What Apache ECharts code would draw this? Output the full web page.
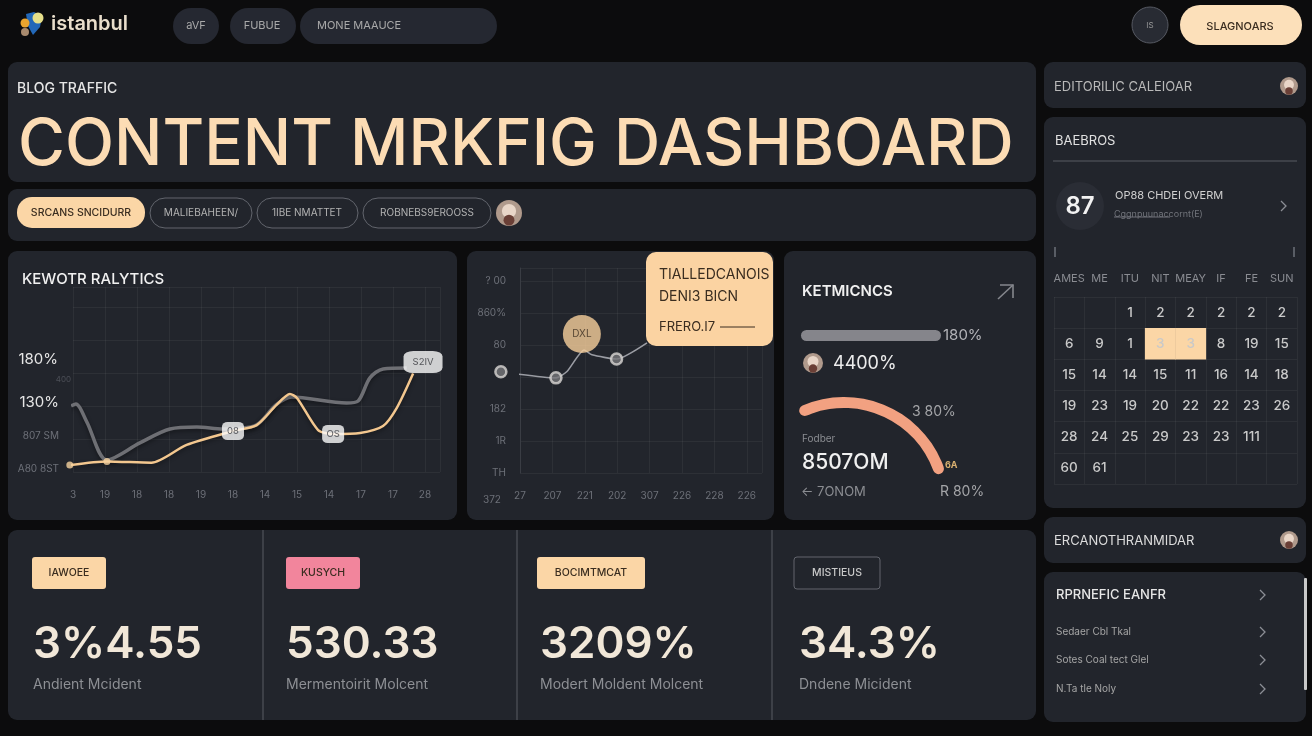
<!DOCTYPE html>
<html>
<head>
<meta charset="utf-8">
<title>Content dashboard</title>
<script src="https://cdn.jsdelivr.net/npm/echarts@6/dist/echarts.min.js"></script>
<style>
html,body{margin:0;padding:0;background:#0c0c0d;}
#main{width:1312px;height:736px;}
</style>
</head>
<body>
<div id="main"></div>
<script>
// keyword chart
var kwXLabels = ['3','19','18','18','19','18','14','15','14','17','17','28'];
var kwYLabels = ['A80 8ST','807 SM','130%'];
var kwOrangeX = [-0.1,1.06,2.45,3.55,5.0,5.74,6.36,6.78,7.0,7.66,8.13,8.97,9.69,10.12,10.63];
var kwOrangeY = [0.21,0.32,0.28,0.82,1.24,1.42,2.03,2.36,2.24,1.27,1.15,1.18,1.39,1.94,2.98];
var kwGrayX = [-0.06,0.09,0.43,1.06,2.09,3.03,3.87,4.69,5.72,6.34,6.84,8.55,8.91,9.28,9.69,10.43];
var kwGrayY = [2.0,2.06,1.52,0.36,0.88,1.3,1.36,1.3,1.42,2.03,2.27,2.09,2.15,2.85,3.12,3.15];
var kwTags = [['08',5.0,1.24],['OS',8.13,1.15],['S2IV',10.94,3.33]];
var kwDots = [[-0.1,0.21],[1.06,0.32]];

// trend chart
var trendXLabels = ['27','207','221','202','307','226','228','226'];
var trendYLabels = ['TH','1R','182','','80','860%','? 00'];
var trendX = [-0.59,1.11,1.45,1.98,2.22,2.98,3.92];
var trendY = [3.16,2.97,3.17,3.84,3.69,3.56,4.06];
var trendNodes = [[-0.59,3.16],[1.11,2.97],[2.98,3.56]];
var trendBubble = ['DXL',1.91,4.34];

// metrics
var progressValue = 100;
var progressLabel = '180%';
var arcValue = 100;

// calendar
var calHeaders = ['AMES','ME','ITU','NIT','MEAY','IF','FE','SUN'];
var calRows = [
  ['','',1,2,2,2,2,2],
  [6,9,1,3,3,8,19,15],
  [15,14,14,15,11,16,14,18],
  [19,23,19,20,22,22,23,26],
  [28,24,25,29,23,23,111,''],
  [60,61,'','','','','','']
];
var calPicked = [[3,1],[4,1]];

// kpi row
var kpiTags = ['IAWOEE','KUSYCH','BOCIMTMCAT','MISTIEUS'];
var kpiValues = ['3%4.55','530.33','3209%','34.3%'];
var kpiNotes = ['Andient Mcident','Mermentoirit Molcent','Modert Moldent Molcent','Dndene Micident'];

var FONT = 'Inter';
var PANEL = '#22252c';
var PEACH = '#fbd6a6';
var els = [];

function rect(x,y,w,h,r,fill,stroke,z){
  els.push({type:'rect',z:z==null?-1:z,shape:{x:x,y:y,width:w,height:h,r:r},
    style:{fill:fill||'transparent',stroke:stroke||null,lineWidth:stroke?1:0}});
}
function circle(cx,cy,r,fill,stroke,z){
  els.push({type:'circle',z:z==null?0:z,shape:{cx:cx,cy:cy,r:r},
    style:{fill:fill||'transparent',stroke:stroke||null,lineWidth:stroke?1:0}});
}
function text(x,y,str,size,color,weight,align,z){
  els.push({type:'text',z:z==null?1:z,x:x,y:y,style:{text:str,fill:color,
    font:(weight||400)+' '+size+'px '+FONT,align:align||'left',verticalAlign:'middle'}});
}
function line(points,color,width,z){
  els.push({type:'polyline',z:z==null?0:z,shape:{points:points},
    style:{stroke:color,lineWidth:width||1,fill:null}});
}
function chevron(x,y){
  line([[x-3,y-5],[x+2,y],[x-3,y+5]],'#8b8e95',1.3);
}
function avatar(cx,cy,r){
  circle(cx,cy,r,'#b09a8c');
  circle(cx,cy-r*0.15,r*0.55,'#e9d6c8');
  circle(cx,cy+r*0.55,r*0.42,'#6a3f36');
}

// top bar
els.push({type:'polygon',z:0,shape:{points:[[26,14],[34,12],[42,16],[40,27],[33,35],[28,26]]},style:{fill:'#2368b8'}});
circle(38,18,5.5,'#e6e08a',null,1);
circle(25,23,4.5,'#eba52e',null,1);
circle(25,32,4,'#a98b6e',null,1);
text(51,24,'istanbul',20,'#e9decb',600);
rect(173,8,46,36,18,'#252831');
rect(230,8,66,36,18,'#252831');
rect(300,8,197,36,18,'#252831');
text(196,26,'aVF',11,'#a9a9a9',400,'center');
text(262,26,'FUBUE',11,'#a9a9a9',400,'center');
text(317,26,'MONE MAAUCE',11,'#a9a9a9');
circle(1150,25,18,'#282b33','#565962');
text(1150,26,'IS',8,'#9a9a9a',400,'center');
rect(1180,5,122,40,20,'#fce0ba');
text(1240,27,'SLAGNOARS',11,'#3a2d20',500,'center');

// header + filter bar
rect(8,62,1028,120,9,PANEL);
text(17,89,'BLOG TRAFFIC',14,'#e6e6e6',500);
text(18,146,'CONTENT MRKFIG DASHBOARD',64,'#fcdcb4',500);
rect(8,189,1028,52,9,PANEL);
rect(17,197,128,31,15,PEACH);
text(81,213,'SRCANS SNCIDURR',10.5,'#3a2d20',500,'center');
rect(150,198,102,30,15,null,'#62656d');
text(201,213,'MALIEBAHEEN/',10,'#b3b3b3',400,'center');
rect(257,198,101,30,15,null,'#62656d');
text(307,213,'1IBE NMATTET',10,'#b3b3b3',400,'center');
rect(363,198,128,30,15,null,'#62656d');
text(427,213,'ROBNEBS9EROOSS',10,'#b3b3b3',400,'center');
avatar(509,213,13);

// chart panels
rect(8,251,449,269,9,PANEL);
rect(467,251,307,269,9,PANEL);
rect(784,251,252,269,9,PANEL);
text(22,279,'KEWOTR RALYTICS',15,'#f0f0f0',500);
text(58,359,'180%',15,'#e6e6e6',400,'right');
text(71,380,'400',8,'#4c4f57',400,'right');

// tooltip card on the trend chart
rect(646,252,127,94,10,'#fbd3a2',null,10);
text(659,275,'TIALLEDCANOIS',14,'#3a2d20',400,'left',11);
text(659,297,'DENI3 BICN',14,'#3a2d20',400,'left',11);
text(659,327,'FRERO.I7',13,'#3a2d20',400,'left',11);
line([[720,327],[755,327]],'#3a2d20',1,11);
text(492,500,'372',10,'#6d7078',400,'center');

// metrics panel
text(802,291,'KETMICNCS',15,'#f0f0f0',600);
line([[998,299],[1013,285]],'#85878d',1.6);
line([[1000,285],[1013,285],[1013,298]],'#85878d',1.6);
avatar(813,363,10);
text(833,364,'4400%',18,'#ececec',400);
text(912,412,'3 80%',14,'#a4a5a8');
text(802,439,'Fodber',10,'#8b8d92');
text(802,463,'8507OM',21,'#f0f0f0',500);
text(801,492,'← 7ONOM',13,'#8b8d92');
text(940,492,'R 80%',14,'#a4a5a8');
text(945,465,'6A',9,'#d9b070',700);

// kpi row
rect(8,530,1028,190,9,PANEL);
line([[263,530],[263,720]],'#3d4047',2);
line([[517,530],[517,720]],'#3d4047',2);
line([[772,530],[772,720]],'#3d4047',2);
var kpiX = [33,286,540,799];
var tagBox = [[32,74,PEACH],[286,74,'#f2859c'],[537,108,PEACH],[794,86,null]];
for (var i=0;i<kpiTags.length;i++){
  rect(tagBox[i][0],557,tagBox[i][1],32,3,tagBox[i][2],tagBox[i][2]?null:'#62656d');
  text(tagBox[i][0]+tagBox[i][1]/2,573,kpiTags[i],10.5,tagBox[i][2]?'#3a2d20':'#c9c9c9',500,'center');
  text(kpiX[i],645,kpiValues[i],44,'#f1e7d8',600);
  text(kpiX[i],685,kpiNotes[i],14,'#8d8f94');
}

// right column
rect(1044,62,262,46,9,PANEL);
text(1054,87,'EDITORILIC CALEIOAR',13,'#b9b9b9');
avatar(1289,86,9);
rect(1044,117,262,391,9,PANEL);
text(1055,141,'BAEBROS',13,'#e0e0e0');
line([[1053,161],[1297,161]],'#3d4047',2);
circle(1080,206,24,'#2a2d35');
text(1080,207,'87',24,'#f2f2f2',600,'center');
text(1115,196,'OP88 CHDEI OVERM',11,'#d0d0d0');
text(1114,214,'Cggnpuunaccornt(E)',9,'#70737a');
line([[1114,217],[1170,217]],'#70737a',1);
chevron(1284,206);
line([[1055,247],[1055,257]],'#6d7078',1.5);
line([[1294,247],[1294,257]],'#6d7078',1.5);
rect(1044,517,262,46,9,PANEL);
text(1054,541,'ERCANOTHRANMIDAR',13,'#dcdcdc');
avatar(1289,540,9);
rect(1044,572,262,150,9,PANEL);
text(1056,595,'RPRNEFIC EANFR',13,'#e6e6e6',500);
chevron(1263,595);
text(1056,632,'Sedaer Cbl Tkal',10,'#a5a5a5');
chevron(1263,632);
text(1056,660,'Sotes Coal tect Glel',10,'#a5a5a5');
chevron(1263,660);
text(1056,689,'N.Ta tle Noly',10,'#a5a5a5');
chevron(1263,689);
rect(1304,578,3,112,1,'#c9c9c9',null,1);

function pairs(xs,ys){
  return xs.map(function(x,i){return [x,ys[i]];});
}

var calData = [];
calRows.forEach(function(row,r){
  row.forEach(function(day,c){
    var picked = calPicked.some(function(p){return p[0]===c&&p[1]===r;}) ? 1 : 0;
    calData.push([c,r,day,picked]);
  });
});

var gridLine = {show:true,lineStyle:{color:'rgba(255,255,255,0.05)'}};
var axisText = {color:'#6d7078',fontSize:10,fontFamily:FONT};

var option = {
  backgroundColor:'#0c0c0d',
  animation:false,
  textStyle:{fontFamily:FONT},
  graphic:{elements:els},
  visualMap:{show:false,type:'piecewise',seriesIndex:5,dimension:3,
    pieces:[{value:0,color:'rgba(0,0,0,0)'},{value:1,color:PEACH}]},
  grid:[
    {left:73,top:287,width:367,height:185},
    {left:520,top:268,width:242,height:205},
    {left:1054,top:297,width:243,height:187},
    {left:801,top:330,width:140,height:11}
  ],
  xAxis:[
    {gridIndex:0,type:'value',min:0,max:11.47,interval:1,splitLine:gridLine,axisLine:{show:false},axisTick:{show:false},
      axisLabel:Object.assign({},axisText,{margin:18,formatter:function(v){return kwXLabels[v]||'';}})},
    {gridIndex:1,type:'value',min:0,max:7.47,interval:1,splitLine:gridLine,axisLine:{show:false},axisTick:{show:false},
      axisLabel:Object.assign({},axisText,{margin:18,formatter:function(v){return trendXLabels[v]||'';}})},
    {gridIndex:2,type:'category',position:'top',data:calHeaders,axisLine:{show:false},axisTick:{show:false},
      splitLine:gridLine,axisLabel:{color:'#8a8c92',fontSize:11,fontFamily:FONT,margin:13,interval:0}},
    {gridIndex:3,type:'value',min:0,max:100,show:false}
  ],
  yAxis:[
    {gridIndex:0,type:'value',min:0,max:5.6,interval:1,splitLine:gridLine,axisLine:{show:false},axisTick:{show:false},
      axisLabel:{margin:14,padding:[0,0,6,0],fontFamily:FONT,
        formatter:function(v){
          var s = kwYLabels[v]||'';
          return v===2 ? '{big|'+s+'}' : '{small|'+s+'}';
        },
        rich:{big:{color:'#e6e6e6',fontSize:15,fontFamily:FONT},small:{color:'#6d7078',fontSize:10,fontFamily:FONT}}}},
    {gridIndex:1,type:'value',min:0,max:6.4,interval:1,splitLine:gridLine,axisTick:{show:false},
      axisLine:{show:true,lineStyle:{color:'#3a3d44'}},
      axisLabel:Object.assign({},axisText,{margin:14,formatter:function(v){return trendYLabels[v]||'';}})},
    {gridIndex:2,type:'category',inverse:true,data:['0','1','2','3','4','5'],axisLine:{show:false},axisTick:{show:false},
      splitLine:gridLine,axisLabel:{show:false}},
    {gridIndex:3,type:'category',data:['a'],show:false}
  ],
  series:[
    {type:'line',name:'gray',xAxisIndex:0,yAxisIndex:0,data:pairs(kwGrayX,kwGrayY),smooth:0.3,clip:false,
      symbol:'none',lineStyle:{color:'#6e6f74',width:3.5,shadowColor:'rgba(0,0,0,0.4)',shadowBlur:4,shadowOffsetY:2},z:2},
    {type:'line',name:'orange',xAxisIndex:0,yAxisIndex:0,data:pairs(kwOrangeX,kwOrangeY),smooth:0.25,clip:false,
      symbol:'none',lineStyle:{color:'#f3c78f',width:2.5,shadowColor:'rgba(0,0,0,0.4)',shadowBlur:4,shadowOffsetY:2},z:3},
    {type:'scatter',name:'dots',xAxisIndex:0,yAxisIndex:0,data:kwDots,clip:false,symbolSize:7,
      itemStyle:{color:'#f7d3a0'},z:4},
    {type:'scatter',name:'tags',xAxisIndex:0,yAxisIndex:0,clip:false,symbol:'roundRect',
      data:kwTags.map(function(t){return {value:[t[1],t[2]],name:t[0],symbolSize:t[0].length>2?[39,22]:[22,18]};}),
      itemStyle:{color:'#fbfbfb'},z:5,
      label:{show:true,position:'inside',formatter:'{b}',color:'#33353a',fontSize:9.5,fontFamily:FONT}},
    {type:'line',name:'trend',xAxisIndex:1,yAxisIndex:1,data:pairs(trendX,trendY),smooth:0.2,clip:false,
      symbol:'none',lineStyle:{color:'#9a9ca3',width:1.6},z:3},
    {type:'heatmap',name:'calendar',xAxisIndex:2,yAxisIndex:2,data:calData,
      itemStyle:{borderWidth:0},emphasis:{disabled:true},
      label:{show:true,fontFamily:FONT,fontSize:13.5,fontWeight:500,
        formatter:function(p){return p.data[2];},
        color:'#c9c9c9'},z:2},
    {type:'scatter',name:'nodes',xAxisIndex:1,yAxisIndex:1,data:trendNodes,clip:false,symbolSize:11,
      itemStyle:{color:'#77777b',borderColor:'#d8d6d3',borderWidth:2.5},z:4},
    {type:'scatter',name:'bubble',xAxisIndex:1,yAxisIndex:1,clip:false,symbolSize:38,
      data:[{value:[trendBubble[1],trendBubble[2]],name:trendBubble[0]}],
      itemStyle:{color:'#f8cf9c'},z:5,
      label:{show:true,position:'inside',formatter:'{b}',color:'#3a2d20',fontSize:10,fontFamily:FONT}},
    {type:'bar',name:'progress',xAxisIndex:3,yAxisIndex:3,data:[progressValue],barWidth:11,
      itemStyle:{color:'#85858b',borderRadius:6},
      label:{show:true,position:'right',distance:2,formatter:progressLabel,color:'#b4b4b8',fontSize:15,fontFamily:FONT}},
    {type:'gauge',name:'arc',center:[844,503],radius:106,startAngle:113,endAngle:20,min:0,max:100,
      pointer:{show:false},axisTick:{show:false},splitLine:{show:false},axisLabel:{show:false},title:{show:false},detail:{show:false},
      axisLine:{show:false,roundCap:true,lineStyle:{width:11}},
      progress:{show:true,width:11,roundCap:true,itemStyle:{color:'#f2a181'}},
      data:[{value:arcValue}]}
  ]
};

var myChart = echarts.init(document.getElementById('main'));
myChart.setOption(option);
</script>
</body>
</html>
